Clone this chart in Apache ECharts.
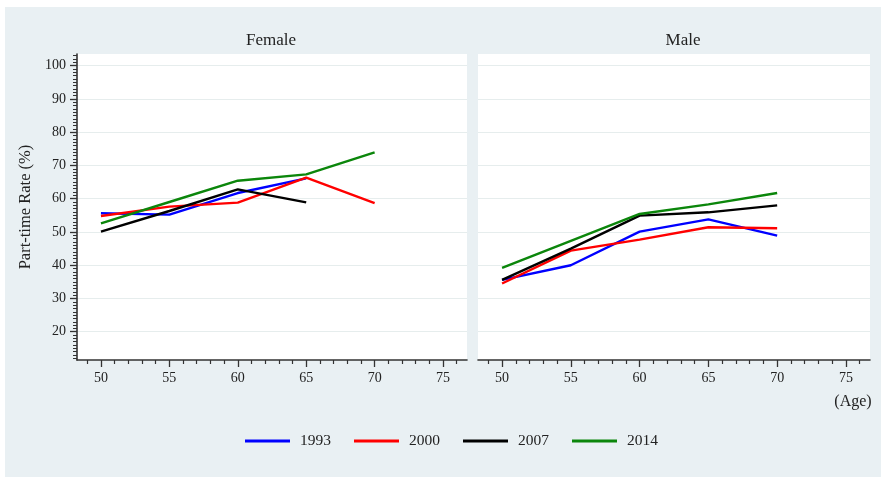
<!DOCTYPE html>
<html>
<head>
<meta charset="utf-8">
<title>Part-time Rate by Age</title>
<script src="https://cdn.jsdelivr.net/npm/echarts@6/dist/echarts.min.js"></script>
<style>
  html, body { margin: 0; padding: 0; background: #ffffff; }
  #chart { width: 888px; height: 480px; }
</style>
</head>
<body>
<div id="chart"></div>
<script>
// Ages on the x axis
const ages = [50, 55, 60, 65, 70];
const years = ['1993', '2000', '2007', '2014'];
const lineColors = ['#0000ff', '#ff0000', '#000000', '#0b860b'];

// Part-time rate (%) – female
const female1993 = [55.6, 55.2, 61.7, 66.1];
const female2000 = [54.8, 57.6, 58.8, 66.3, 58.7];
const female2007 = [50.1, 56.3, 62.8, 58.9];
const female2014 = [52.6, 59.0, 65.4, 67.3, 73.9];

// Part-time rate (%) – male
const male1993 = [35.6, 40.0, 50.1, 53.8, 48.9];
const male2000 = [34.5, 44.4, 47.7, 51.4, 51.1];
const male2007 = [35.6, 45.0, 54.9, 55.9, 58.0];
const male2014 = [39.2, 47.3, 55.4, 58.3, 61.7];

// Axis tick labels
const yTickLabels = [20, 30, 40, 50, 60, 70, 80, 90, 100];
const xTickLabels = [50, 55, 60, 65, 70, 75];

const Y_MIN = 11.5, Y_MAX = 103.5;
const X_MIN = 48.25, X_MAX = 76.75;

const FONT = '"Liberation Serif", "Times New Roman", serif';
const AXIS_COLOR = '#333333';
const TEXT_COLOR = '#222222';
const GRID_LINE = '#e6eded';

function range(a, b) { const r = []; for (let i = a; i <= b; i++) r.push(i); return r; }
const yMinor = range(12, 103).filter(v => v % 10 !== 0);
const xMinor = range(49, 76).filter(v => v % 5 !== 0);

function pairs(values) { return values.map((v, i) => [ages[i], v]); }

const femaleSets = [female1993, female2000, female2007, female2014];
const maleSets = [male1993, male2000, male2007, male2014];

function majorX(gridIndex) {
  return {
    type: 'value', gridIndex, position: 'bottom', min: X_MIN, max: X_MAX,
    axisLine: { show: true, onZero: false, lineStyle: { color: AXIS_COLOR, width: 1.6 } },
    axisTick: { show: true, length: 7, customValues: xTickLabels, lineStyle: { color: AXIS_COLOR, width: 1.3 } },
    axisLabel: { show: true, customValues: xTickLabels, margin: 11, color: TEXT_COLOR, fontFamily: FONT, fontSize: 14 },
    splitLine: { show: false }
  };
}
function minorX(gridIndex) {
  return {
    type: 'value', gridIndex, position: 'bottom', min: X_MIN, max: X_MAX,
    axisLine: { show: false, onZero: false },
    axisTick: { show: true, length: 4, customValues: xMinor, lineStyle: { color: AXIS_COLOR, width: 1.2 } },
    axisLabel: { show: false },
    splitLine: { show: false }
  };
}

const option = {
  backgroundColor: '#ffffff',
  animation: false,
  graphic: [
    { type: 'rect', z: -10, shape: { x: 5, y: 7, width: 876, height: 470 }, style: { fill: '#e9f0f3' } },
    { type: 'text', x: 271, y: 41, style: { text: 'Female', font: '17px ' + FONT, fill: '#222', align: 'center', verticalAlign: 'middle' } },
    { type: 'text', x: 683, y: 41, style: { text: 'Male', font: '17px ' + FONT, fill: '#222', align: 'center', verticalAlign: 'middle' } },
    { type: 'text', x: 853, y: 402, style: { text: '(Age)', font: '16px ' + FONT, fill: '#222', align: 'center', verticalAlign: 'middle' } }
  ],
  legend: {
    data: years,
    left: 245, top: 433, padding: 0,
    icon: 'rect', itemWidth: 45, itemHeight: 3, itemGap: 23,
    textStyle: { fontFamily: FONT, fontSize: 15.5, color: '#222', padding: [0, 0, 0, 5] }
  },
  grid: [
    { left: 77, top: 54, width: 390, height: 306, show: true, backgroundColor: '#ffffff', borderWidth: 0 },
    { left: 478, top: 54, width: 392, height: 306, show: true, backgroundColor: '#ffffff', borderWidth: 0 }
  ],
  xAxis: [majorX(0), minorX(0), majorX(1), minorX(1)],
  yAxis: [
    {
      type: 'value', gridIndex: 0, position: 'left', min: Y_MIN, max: Y_MAX,
      name: 'Part-time Rate (%)', nameLocation: 'middle', nameGap: 43,
      nameTextStyle: { fontFamily: FONT, fontSize: 16.5, color: '#222' },
      axisLine: { show: true, lineStyle: { color: AXIS_COLOR, width: 1.6 } },
      axisTick: { show: true, length: 7, customValues: yTickLabels, lineStyle: { color: AXIS_COLOR, width: 1.3 } },
      axisLabel: { show: true, customValues: yTickLabels, margin: 11, color: TEXT_COLOR, fontFamily: FONT, fontSize: 14 },
      splitLine: { show: true, lineStyle: { color: GRID_LINE, width: 1.2 } }
    },
    {
      type: 'value', gridIndex: 0, position: 'left', min: Y_MIN, max: Y_MAX,
      axisLine: { show: false },
      axisTick: { show: true, length: 4, customValues: yMinor, lineStyle: { color: AXIS_COLOR, width: 1 } },
      axisLabel: { show: false },
      splitLine: { show: false }
    },
    {
      type: 'value', gridIndex: 1, position: 'left', min: Y_MIN, max: Y_MAX,
      axisLine: { show: false },
      axisTick: { show: false, customValues: yTickLabels },
      axisLabel: { show: false, customValues: yTickLabels },
      splitLine: { show: true, lineStyle: { color: GRID_LINE, width: 1.2 } }
    }
  ],
  series: []
};

years.forEach((yr, i) => {
  option.series.push({
    name: yr, type: 'line', xAxisIndex: 0, yAxisIndex: 0,
    data: pairs(femaleSets[i]), showSymbol: false, symbol: 'none',
    lineStyle: { color: lineColors[i], width: 2.4 }, itemStyle: { color: lineColors[i] }
  });
  option.series.push({
    name: yr, type: 'line', xAxisIndex: 2, yAxisIndex: 2,
    data: pairs(maleSets[i]), showSymbol: false, symbol: 'none',
    lineStyle: { color: lineColors[i], width: 2.4 }, itemStyle: { color: lineColors[i] }
  });
});

const chart = echarts.init(document.getElementById('chart'), null, { renderer: 'canvas' });
chart.setOption(option);
</script>
</body>
</html>
